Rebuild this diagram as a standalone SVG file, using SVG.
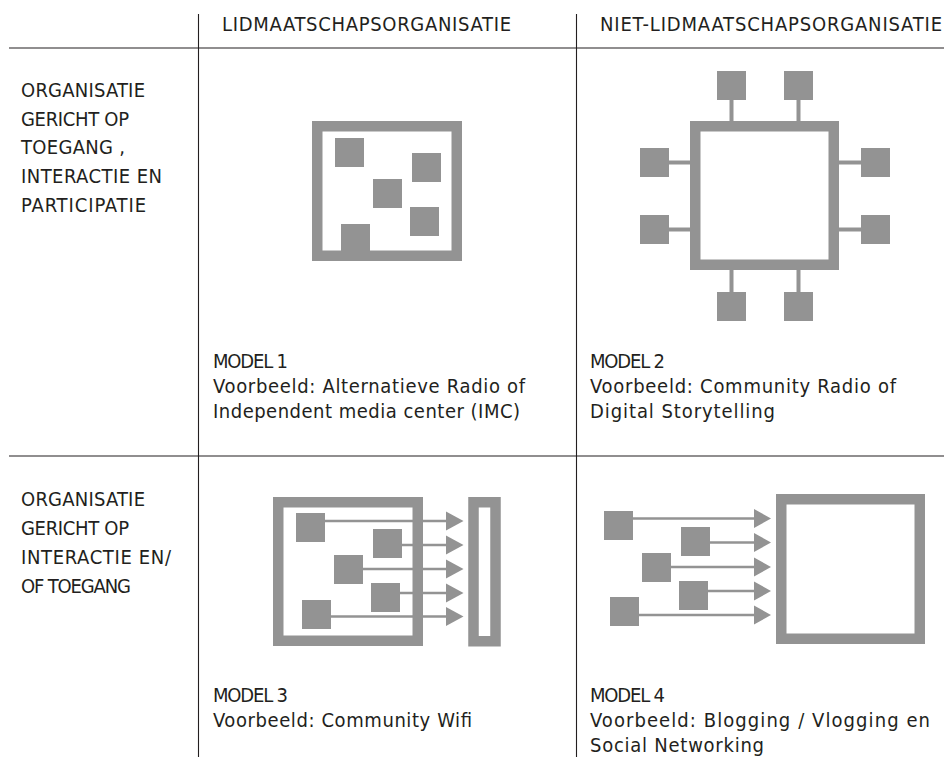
<svg xmlns="http://www.w3.org/2000/svg" width="944" height="757" viewBox="0 0 944 757">
<style>
text{font-family:"Liberation Sans Narrow","DejaVu Sans Condensed","Liberation Sans",sans-serif;fill:#231f20;}
.h{font-size:20px;}
.l{font-size:20px;}
.m{font-size:20px;}
.grid{stroke:#231f20;stroke-width:1.1;fill:none;}
.box{fill:none;stroke:#939393;stroke-width:10.5;}
.sq{fill:#939393;}
.con{stroke:#939393;stroke-width:4;fill:none;}
.arr{stroke:#939393;stroke-width:2.6;fill:none;}
.head{fill:#939393;}
</style>
<defs>
<rect id="s" width="29" height="29" class="sq"/>
</defs>
<rect width="944" height="757" fill="#ffffff"/>
<g id="grid">
<line class="grid" x1="198.5" y1="14" x2="198.5" y2="757"/>
<line class="grid" x1="576.5" y1="14" x2="576.5" y2="757"/>
<line class="grid" x1="9" y1="48" x2="944" y2="48"/>
<line class="grid" x1="9" y1="456" x2="944" y2="456"/>
</g>
<g id="headers">
<text class="h" x="222" y="31" textLength="289" lengthAdjust="spacing">LIDMAATSCHAPSORGANISATIE</text>
<text class="h" x="600" y="31" textLength="342" lengthAdjust="spacing">NIET-LIDMAATSCHAPSORGANISATIE</text>
</g>
<g id="row1-label">
<text class="l" x="21" y="97" textLength="124" lengthAdjust="spacing">ORGANISATIE</text>
<text class="l" x="21" y="125.5" textLength="108" lengthAdjust="spacing">GERICHT OP</text>
<text class="l" x="21" y="154" textLength="104" lengthAdjust="spacing">TOEGANG ,</text>
<text class="l" x="21" y="183" textLength="141" lengthAdjust="spacing">INTERACTIE EN</text>
<text class="l" x="21" y="212" textLength="125" lengthAdjust="spacing">PARTICIPATIE</text>
</g>
<g id="row2-label">
<text class="l" x="21" y="506" textLength="124" lengthAdjust="spacing">ORGANISATIE</text>
<text class="l" x="21" y="535" textLength="108" lengthAdjust="spacing">GERICHT OP</text>
<text class="l" x="21" y="564" textLength="150" lengthAdjust="spacing">INTERACTIE EN/</text>
<text class="l" x="21" y="593" textLength="110" lengthAdjust="spacing">OF TOEGANG</text>
</g>
<g id="connectors">
<line class="con" x1="731.5" y1="99" x2="731.5" y2="122"/>
<line class="con" x1="798.5" y1="99" x2="798.5" y2="122"/>
<line class="con" x1="731.5" y1="269" x2="731.5" y2="293"/>
<line class="con" x1="798.5" y1="269" x2="798.5" y2="293"/>
<line class="con" x1="668" y1="162.5" x2="691" y2="162.5"/>
<line class="con" x1="668" y1="229.5" x2="691" y2="229.5"/>
<line class="con" x1="838" y1="162.5" x2="862" y2="162.5"/>
<line class="con" x1="838" y1="229.5" x2="862" y2="229.5"/>
<line class="arr" x1="324" y1="521" x2="447" y2="521"/>
<line class="arr" x1="401" y1="545" x2="447" y2="545"/>
<line class="arr" x1="362" y1="569" x2="447" y2="569"/>
<line class="arr" x1="399" y1="593" x2="447" y2="593"/>
<line class="arr" x1="330" y1="616.5" x2="447" y2="616.5"/>
<polygon class="head" points="446,511.5 463.5,521 446,530.5"/>
<polygon class="head" points="446,535.5 463.5,545 446,554.5"/>
<polygon class="head" points="446,559.5 463.5,569 446,578.5"/>
<polygon class="head" points="446,583.5 463.5,593 446,602.5"/>
<polygon class="head" points="446,607 463.5,616.5 446,626"/>
<line class="arr" x1="632" y1="518.5" x2="755" y2="518.5"/>
<line class="arr" x1="709" y1="542.5" x2="755" y2="542.5"/>
<line class="arr" x1="670" y1="567" x2="755" y2="567"/>
<line class="arr" x1="707" y1="591" x2="755" y2="591"/>
<line class="arr" x1="638" y1="615" x2="755" y2="615"/>
<polygon class="head" points="754,509 771,518.5 754,528"/>
<polygon class="head" points="754,533 771,542.5 754,552"/>
<polygon class="head" points="754,557.5 771,567 754,576.5"/>
<polygon class="head" points="754,581.5 771,591 754,600.5"/>
<polygon class="head" points="754,605.5 771,615 754,624.5"/>
</g>
<g id="model1">
<rect class="box" x="317.25" y="126.25" width="139.5" height="129.5"/>
<use href="#s" x="335" y="138"/>
<use href="#s" x="412" y="153"/>
<use href="#s" x="373" y="179"/>
<use href="#s" x="410" y="207"/>
<use href="#s" x="341" y="224"/>
<text class="m" x="213" y="368" textLength="75" lengthAdjust="spacing">MODEL 1</text>
<text class="m" x="213" y="393" textLength="312" lengthAdjust="spacing">Voorbeeld: Alternatieve Radio of</text>
<text class="m" x="213" y="418" textLength="307" lengthAdjust="spacing">Independent media center (IMC)</text>
</g>
<g id="model2">
<rect class="box" x="695.25" y="126.25" width="138.5" height="138.5"/>
<use href="#s" x="717" y="71"/>
<use href="#s" x="784" y="71"/>
<use href="#s" x="717" y="292"/>
<use href="#s" x="784" y="292"/>
<use href="#s" x="640" y="148"/>
<use href="#s" x="640" y="215"/>
<use href="#s" x="861" y="148"/>
<use href="#s" x="861" y="215"/>
<text class="m" x="590" y="368" textLength="75" lengthAdjust="spacing">MODEL 2</text>
<text class="m" x="590" y="393" textLength="306" lengthAdjust="spacing">Voorbeeld: Community Radio of</text>
<text class="m" x="590" y="418" textLength="185" lengthAdjust="spacing">Digital Storytelling</text>
</g>
<g id="model3">
<rect class="box" x="278.25" y="502.25" width="139.5" height="138.5"/>
<rect class="box" x="473.5" y="502.25" width="22" height="139"/>
<use href="#s" x="296" y="513"/>
<use href="#s" x="373" y="529"/>
<use href="#s" x="334" y="555"/>
<use href="#s" x="371" y="583"/>
<use href="#s" x="302" y="600"/>
<text class="m" x="213" y="702" textLength="75" lengthAdjust="spacing">MODEL 3</text>
<text class="m" x="213" y="727" textLength="259" lengthAdjust="spacing">Voorbeeld: Community Wifi</text>
</g>
<g id="model4">
<rect class="box" x="781.25" y="499.25" width="138.5" height="139.5"/>
<use href="#s" x="604" y="511"/>
<use href="#s" x="681" y="527"/>
<use href="#s" x="642" y="553"/>
<use href="#s" x="679" y="581"/>
<use href="#s" x="610" y="597"/>
<text class="m" x="590" y="702" textLength="75" lengthAdjust="spacing">MODEL 4</text>
<text class="m" x="590" y="727" textLength="340" lengthAdjust="spacing">Voorbeeld: Blogging / Vlogging en</text>
<text class="m" x="590" y="752" textLength="174" lengthAdjust="spacing">Social Networking</text>
</g>
</svg>
